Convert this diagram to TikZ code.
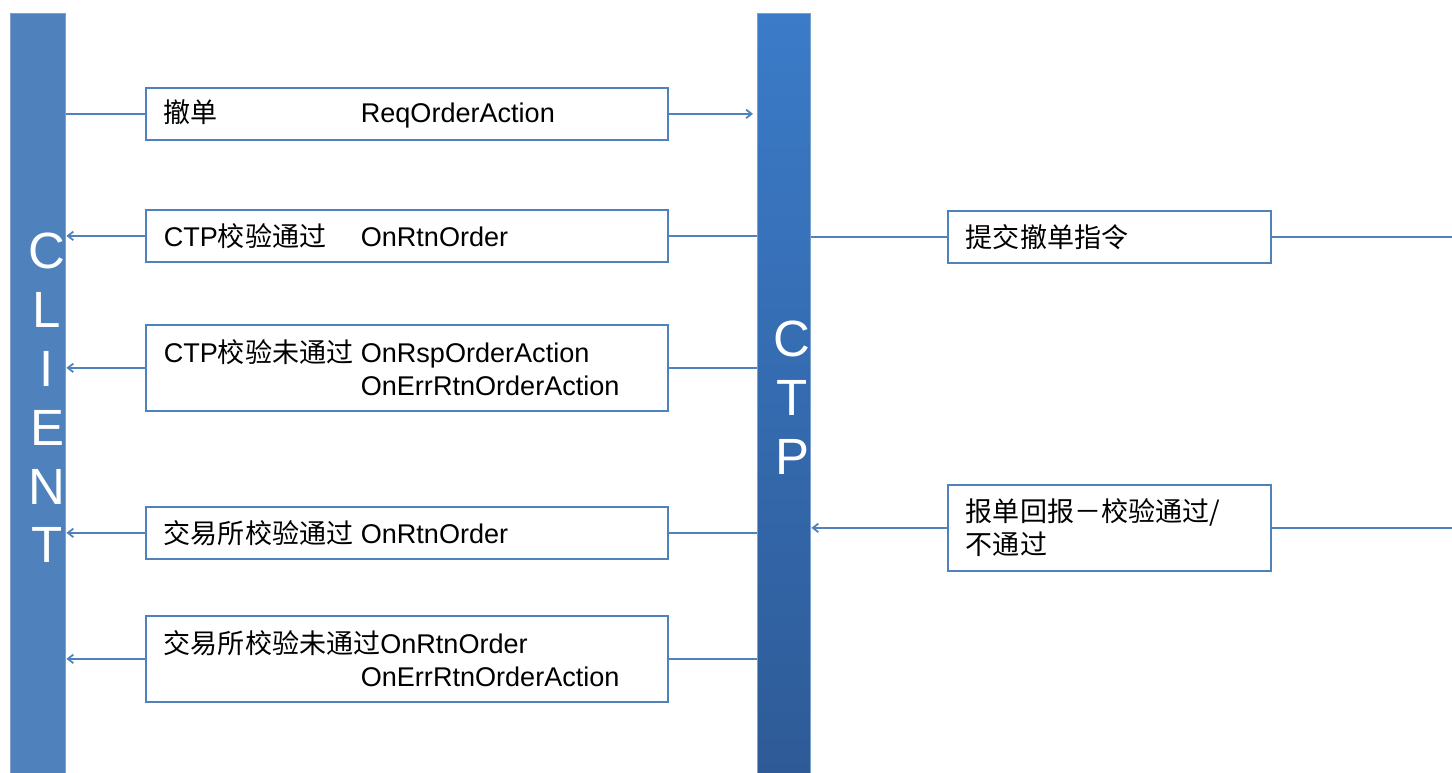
\documentclass[tikz,border=0pt]{standalone}
\usepackage{fontspec}
\setmainfont{Liberation Sans}
\newfontfamily\cjk{Noto Sans CJK SC}
\usetikzlibrary{arrows.meta}

\definecolor{lineBlue}{RGB}{79,129,189}
\definecolor{clientBlue}{RGB}{79,129,189}
\definecolor{ctpTop}{RGB}{59,123,200}
\definecolor{ctpBottom}{RGB}{46,90,150}

\def \colGap {3.94cm}
\newcommand{\cn}[1]{{\cjk #1}}
\newcommand{\msgTab}[1]{\makebox[\colGap][l]{#1}}

\tikzset{
   msgbox/.style={draw=lineBlue, line width=1pt, fill=white, anchor=north west,
      minimum width=10.44cm, minimum height=1.04cm, text width=9.72cm,
      inner xsep=0.36cm, inner ysep=0pt, align=left,
      font=\fontsize{15.4}{18.7}\selectfont},
   tallbox/.style={msgbox, minimum height=1.72cm},
   bar/.style={anchor=north west, minimum width=1.1cm, minimum height=15.6cm,
      draw=lineBlue!75!white, line width=0.8pt, inner sep=0pt},
   barlabel/.style={text=white, align=center, font=\fontsize{29}{33.5}\selectfont},
   conn/.style={draw=lineBlue, line width=1pt},
   arr/.style={conn, -{Straight Barb[length=1.1mm,width=1.7mm]}}
}

\begin{document}
\begin{tikzpicture}[x=0.02cm, y=-0.02cm]
         \useasboundingbox (0,0) rectangle (1452,773);
         \clip (0,0) rectangle (1452,773);
         \coordinate (rim) at (1452,0);

         % the two sides
         \node[bar, fill=clientBlue] (client) at (10,13) {};
         \node[bar, minimum width=1.06cm, top color=ctpTop, bottom color=ctpBottom] (ctp) at (757,13) {};
         \node[barlabel] (clientText) at (47,398) {C\\L\\I\\E\\N\\T};
         \node[barlabel] (ctpText) at (792,398) {C\\T\\P};

         % messages between client and ctp
         \node[msgbox] (cancel) at (145,87) {\msgTab{\cn{撤单}}ReqOrderAction};
         \node[msgbox] (ctpPass) at (145,209) {\msgTab{CTP\cn{校验通过}}OnRtnOrder};
         \node[tallbox] (ctpFail) at (145,324) {\msgTab{CTP\cn{校验未通过}}OnRspOrderAction\\\hspace*{\colGap}OnErrRtnOrderAction};
         \node[msgbox] (exPass) at (145,506) {\msgTab{\cn{交易所校验通过}}OnRtnOrder};
         \node[tallbox] (exFail) at (145,615) {\cn{交易所校验未通过}OnRtnOrder\\\hspace*{\colGap}OnErrRtnOrderAction};

         % messages between ctp and exchange
         \node[msgbox, minimum width=6.46cm, text width=5.74cm] (submit) at (947,210) {\cn{提交撤单指令}};
         \node[tallbox, minimum width=6.46cm, text width=5.74cm] (report) at (947,484) {\cn{报单回报－校验通过/}\\\cn{不通过}};

         \draw[conn] (client.east |- cancel.west) -- (cancel.west);
         \draw[arr, shorten >=0.08cm] (cancel.east) -- (ctp.west |- cancel.east);

         \foreach \msg in {ctpPass, ctpFail, exPass, exFail} {
            \draw[conn] (ctp.west |- \msg.east) -- (\msg.east);
            \draw[arr] (\msg.west) -- (client.east |- \msg.west);
         }

         \draw[conn] (ctp.east |- submit.west) -- (submit.west);
         \draw[conn] (submit.east) -- (submit.east -| rim);
         \draw[arr] (report.west) -- (ctp.east |- report.west);
         \draw[conn] (report.east) -- (report.east -| rim);
      \end{tikzpicture}
\end{document}
